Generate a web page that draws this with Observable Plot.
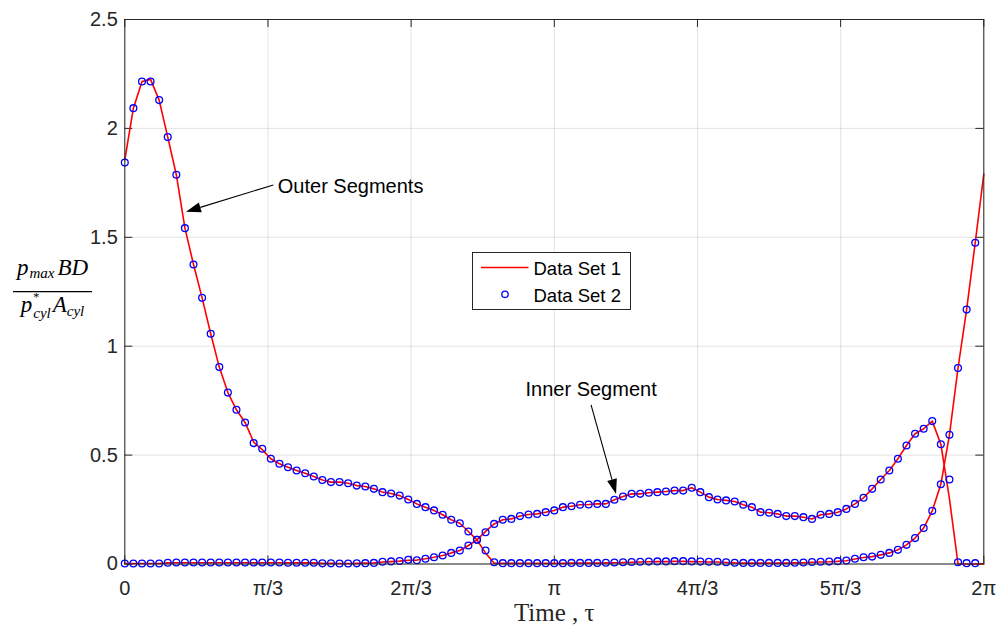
<!DOCTYPE html>
<html>
<head>
<meta charset="utf-8">
<script src="https://cdn.jsdelivr.net/npm/d3@7"></script>
<script src="https://cdn.jsdelivr.net/npm/@observablehq/plot@0.6"></script>
<style>
  html, body { margin: 0; padding: 0; background: #fff; }
  #chart { width: 999px; height: 629px; }
</style>
</head>
<body>
<div id="chart"></div>
<script>
// ---------- data ----------
const nSamples = 100; // samples per period for Data Set 2 (markers)
// Data Set 2 (blue circles): outer and inner segments, i = 0..99, t = i*2π/100
const outer2 = [
  1.843,2.093,2.215,2.215,2.130,1.960,1.787,1.542,1.375,1.222,
  1.057,0.904,0.787,0.708,0.650,0.555,0.529,0.483,0.460,0.444,
  0.429,0.417,0.402,0.386,0.376,0.376,0.371,0.360,0.356,0.345,
  0.330,0.324,0.314,0.296,0.276,0.261,0.246,0.226,0.203,0.187,
  0.149,0.111,0.062,0.008,0.004,0.004,0.004,0.004,0.004,0.004,
  0.004,0.004,0.005,0.005,0.005,0.005,0.006,0.007,0.008,0.009,
  0.010,0.011,0.012,0.012,0.013,0.013,0.012,0.011,0.010,0.010,
  0.008,0.006,0.005,0.005,0.005,0.005,0.005,0.005,0.006,0.007,
  0.009,0.010,0.011,0.013,0.016,0.024,0.031,0.034,0.042,0.051,
  0.065,0.088,0.119,0.165,0.244,0.366,0.593,0.900,1.168,1.475
];
const inner2 = [
  0.002,0.002,0.002,0.002,0.002,0.006,0.007,0.007,0.007,0.007,
  0.007,0.007,0.007,0.007,0.007,0.007,0.007,0.007,0.007,0.006,
  0.006,0.006,0.006,0.003,0.003,0.002,0.002,0.003,0.004,0.005,
  0.010,0.012,0.014,0.019,0.017,0.024,0.031,0.039,0.051,0.062,
  0.085,0.111,0.146,0.184,0.203,0.207,0.220,0.227,0.230,0.238,
  0.246,0.261,0.265,0.272,0.273,0.276,0.276,0.295,0.310,0.322,
  0.322,0.327,0.330,0.333,0.337,0.337,0.350,0.330,0.307,0.296,
  0.292,0.287,0.272,0.261,0.238,0.235,0.230,0.220,0.220,0.215,
  0.207,0.226,0.230,0.238,0.253,0.276,0.304,0.345,0.388,0.429,
  0.483,0.544,0.598,0.621,0.656,0.550,0.388,0.008,0.004,0.004
];
// Data Set 1 (red line): i = 0..100
const outer1 = [
  1.855,2.093,2.215,2.225,2.130,1.960,1.787,1.542,1.375,1.222,
  1.057,0.904,0.787,0.708,0.650,0.560,0.525,0.483,0.460,0.444,
  0.429,0.417,0.402,0.386,0.376,0.376,0.371,0.360,0.356,0.345,
  0.330,0.324,0.314,0.296,0.276,0.261,0.246,0.226,0.203,0.187,
  0.149,0.111,0.050,0.003,0.003,0.003,0.003,0.003,0.003,0.003,
  0.003,0.003,0.004,0.004,0.004,0.004,0.005,0.006,0.007,0.008,
  0.009,0.010,0.011,0.011,0.012,0.012,0.011,0.010,0.009,0.009,
  0.007,0.005,0.004,0.004,0.004,0.004,0.004,0.004,0.005,0.006,
  0.008,0.009,0.010,0.012,0.015,0.023,0.030,0.034,0.042,0.051,
  0.065,0.088,0.119,0.165,0.244,0.366,0.593,0.900,1.168,1.475,
  1.790
];
const inner1 = [
  0.002,0.002,0.002,0.002,0.002,0.005,0.006,0.006,0.006,0.006,
  0.006,0.006,0.006,0.006,0.006,0.006,0.006,0.006,0.006,0.005,
  0.005,0.005,0.005,0.003,0.003,0.002,0.002,0.003,0.004,0.005,
  0.009,0.011,0.013,0.017,0.018,0.024,0.031,0.039,0.051,0.062,
  0.085,0.111,0.150,0.184,0.203,0.207,0.220,0.227,0.230,0.238,
  0.246,0.261,0.265,0.272,0.273,0.276,0.276,0.295,0.310,0.322,
  0.322,0.327,0.330,0.333,0.337,0.337,0.350,0.330,0.307,0.296,
  0.292,0.287,0.272,0.261,0.238,0.235,0.230,0.220,0.220,0.215,
  0.207,0.226,0.230,0.238,0.253,0.276,0.304,0.345,0.388,0.429,
  0.483,0.544,0.598,0.621,0.656,0.550,0.300,0.000,0.000,0.000,
  0.000
];
const xTicks = [0, Math.PI/3, 2*Math.PI/3, Math.PI, 4*Math.PI/3, 5*Math.PI/3, 2*Math.PI];
const xTickLabels = ["0", "π/3", "2π/3", "π", "4π/3", "5π/3", "2π"];
const yTicks = [0, 0.5, 1, 1.5, 2, 2.5];
const yTickLabels = ["0", "0.5", "1", "1.5", "2", "2.5"];
const seriesNames = ["Data Set 1", "Data Set 2"];
const xLabel = "Time , τ";
// annotations: text anchor (t, value) and arrow from -> to (t, value)
const annotations = [
  {label: "Outer Segments", tx: 1.119, ty: 1.734, x1: 1.090, y1: 1.738, x2: 0.451, y2: 1.615},
  {label: "Inner Segment",  tx: 2.931, ty: 0.803, x1: 3.414, y1: 0.728, x2: 3.597, y2: 0.319}
];

// ---------- build tables ----------
const step = 2 * Math.PI / nSamples;
const lineRows = [];
outer1.forEach((v, i) => lineRows.push({t: i * step, v, seg: "outer"}));
inner1.forEach((v, i) => lineRows.push({t: i * step, v, seg: "inner"}));
const dotRows = [];
outer2.forEach((v, i) => dotRows.push({t: i * step, v, seg: "outer"}));
inner2.forEach((v, i) => dotRows.push({t: i * step, v, seg: "inner"}));

const W = 999, H = 629;
const mL = 124.3, mR = 15.7, mT = 19, mB = 65.5;
const innerW = W - mL - mR, innerH = H - mT - mB;
const axisColor = "#262626";
const tickLen = 8;

const plot = Plot.plot({
  width: W,
  height: H,
  marginLeft: mL,
  marginRight: mR,
  marginTop: mT,
  marginBottom: mB,
  style: {fontFamily: "'Liberation Sans', Arial, sans-serif", fontSize: "20px", color: axisColor, background: "#fff"},
  x: {domain: [0, 2 * Math.PI], label: null},
  y: {domain: [0, 2.5], label: null},
  marks: [
    // grid
    Plot.ruleX(xTicks, {x: d => d, stroke: axisColor, strokeOpacity: 0.13}),
    Plot.ruleY(yTicks, {y: d => d, stroke: axisColor, strokeOpacity: 0.13}),
    // inward ticks on all four sides
    Plot.tickX(xTicks, {x: d => d, stroke: axisColor, insetTop: innerH - tickLen}),
    Plot.tickX(xTicks, {x: d => d, stroke: axisColor, insetBottom: innerH - tickLen}),
    Plot.tickY(yTicks, {y: d => d, stroke: axisColor, insetRight: innerW - tickLen}),
    Plot.tickY(yTicks, {y: d => d, stroke: axisColor, insetLeft: innerW - tickLen}),
    // tick labels
    Plot.axisX(xTicks, {tickSize: 0, tickPadding: 17, tickFormat: d => xTickLabels[xTicks.indexOf(d)], label: null, fill: axisColor}),
    Plot.axisY(yTicks, {tickSize: 0, tickPadding: 7, tickFormat: d => yTickLabels[yTicks.indexOf(d)], label: null, fill: axisColor}),
    // data
    Plot.line(lineRows, {x: "t", y: "v", z: "seg", stroke: "#ff0000", strokeWidth: 1.6}),
    Plot.dot(dotRows, {x: "t", y: "v", r: 3.4, stroke: "#0000ff", strokeWidth: 1.3, fill: "none"}),
    // annotations text
    Plot.text(annotations, {x: "tx", y: "ty", text: "label", textAnchor: "start", fontSize: 20, fill: "#000"}),
    // x label
    Plot.text([xLabel], {frameAnchor: "bottom", dy: 57, text: d => d, fontSize: 25, fontFamily: "'Liberation Serif', 'DejaVu Serif', serif", fill: "#262626"}),
    Plot.frame({stroke: axisColor, strokeWidth: 1})
  ]
});

document.getElementById("chart").appendChild(plot);

// ---------- extras drawn with scales ----------
const svg = d3.select(plot);
const sx = plot.scale("x"), sy = plot.scale("y");
const X = sx.apply ? (v => sx.apply(v)) : d3.scaleLinear(sx.domain, sx.range);
const Y = sy.apply ? (v => sy.apply(v)) : d3.scaleLinear(sy.domain, sy.range);

// annotation arrows with filled heads
const ag = svg.append("g");
annotations.forEach(a => {
  const px1 = X(a.x1), py1 = Y(a.y1), px2 = X(a.x2), py2 = Y(a.y2);
  const dx = px2 - px1, dy = py2 - py1, L = Math.hypot(dx, dy);
  const ux = dx / L, uy = dy / L;
  const hl = 15, hw = 5;
  const bx = px2 - ux * hl, by = py2 - uy * hl;
  ag.append("line").attr("x1", px1).attr("y1", py1).attr("x2", bx).attr("y2", by)
    .attr("stroke", "#000").attr("stroke-width", 1.1);
  ag.append("path")
    .attr("d", `M${px2},${py2}L${bx - uy * hw},${by + ux * hw}L${bx + uy * hw},${by - ux * hw}Z`)
    .attr("fill", "#000");
});

// legend box
const lg = svg.append("g").attr("text-anchor", "start");
lg.append("rect").attr("x", 472.5).attr("y", 252.5).attr("width", 158).attr("height", 57)
  .attr("fill", "#fff").attr("stroke", axisColor).attr("stroke-width", 1);
lg.append("line").attr("x1", 481).attr("x2", 528.5).attr("y1", 267.5).attr("y2", 267.5)
  .attr("stroke", "#ff0000").attr("stroke-width", 1.6);
lg.append("circle").attr("cx", 505).attr("cy", 294.3).attr("r", 3.2)
  .attr("fill", "none").attr("stroke", "#0000ff").attr("stroke-width", 1.3);
lg.selectAll("text.lt").data(seriesNames).join("text")
  .attr("x", 533.5).attr("y", (d, i) => 275 + i * 26.5)
  .attr("text-anchor", "start")
  .attr("font-family", "'Liberation Sans', Arial, sans-serif").attr("font-size", 18.5)
  .attr("fill", "#000").text(d => d);

// y-axis label as a fraction
const yl = svg.append("g")
  .attr("font-family", "'Liberation Serif', 'DejaVu Serif', serif")
  .attr("font-style", "italic").attr("fill", "#000");
const num = yl.append("text").attr("x", 52.5).attr("y", 275).attr("text-anchor", "middle").attr("font-size", 23);
num.append("tspan").text("p");
num.append("tspan").attr("font-size", 15).attr("dy", 3).attr("dx", 1).text("max");
num.append("tspan").attr("dy", -3).attr("dx", 3).text("BD");
const den = yl.append("text").attr("x", 52.5).attr("y", 311.5).attr("text-anchor", "middle").attr("font-size", 23);
den.append("tspan").text("p");
den.append("tspan").attr("font-size", 12).attr("dy", -11).attr("dx", 1).attr("font-style", "normal").text("*");
den.append("tspan").attr("font-size", 15).attr("dy", 17).attr("dx", -6).text("cyl");
den.append("tspan").attr("dy", -6).attr("dx", 2).text("A");
den.append("tspan").attr("font-size", 15).attr("dy", 4).text("cyl");
yl.append("line").attr("x1", 13).attr("x2", 92).attr("y1", 291.7).attr("y2", 291.7)
  .attr("stroke", "#000").attr("stroke-width", 1.3);
</script>
</body>
</html>
